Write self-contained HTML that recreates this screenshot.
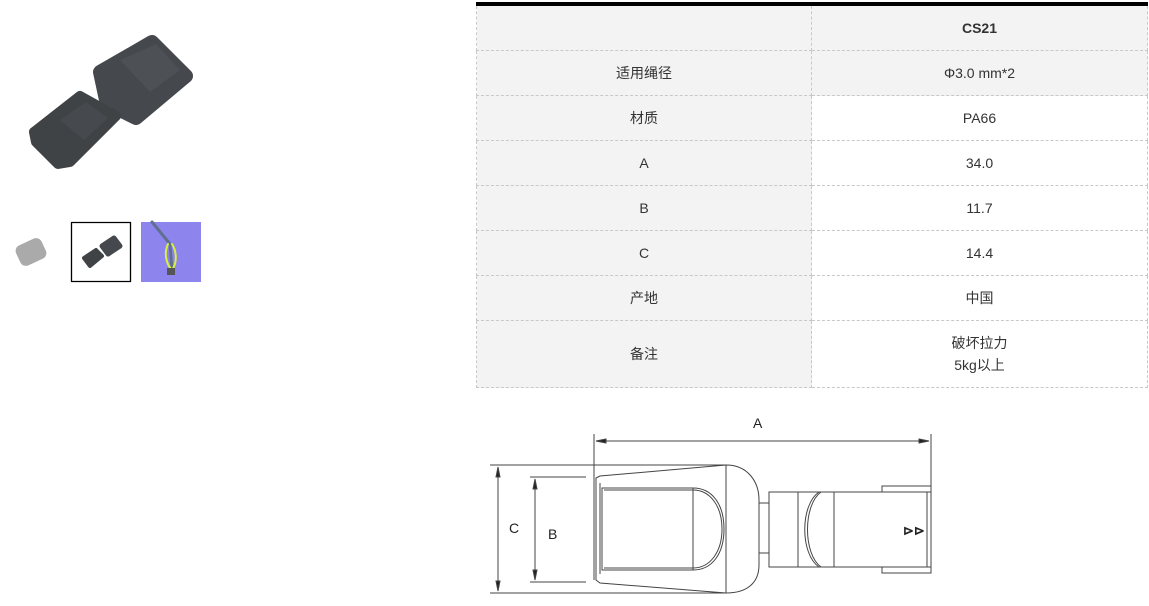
<!DOCTYPE html>
<html><head><meta charset="utf-8"><style>
body{margin:0;width:1149px;height:606px;background:#fff;position:relative;overflow:hidden;font-family:"Liberation Sans","Noto Sans CJK SC",sans-serif;}
table{position:absolute;left:476px;top:2px;width:672px;border-collapse:collapse;border-top:4px solid #000;font-size:14px;color:#333;}
td{border:1px dashed #c8c8c8;text-align:center;padding:0;height:44px;}
td.l{width:334px;background:#f3f3f3;}
td.g{background:#f3f3f3;}
</style></head><body>
<svg style="position:absolute;left:0;top:0" width="470" height="300">
<g stroke-linejoin="round" stroke-linecap="round">
<polygon points="100,72 152,42 186,76 136,118 124,112 106,100" fill="#45484c" stroke="#45484c" stroke-width="14"/>
<polygon points="34,132 80,96 116,116 70,162 58,164 36,142" fill="#404346" stroke="#404346" stroke-width="10"/>
<polygon points="120,60 156,44 180,70 150,92" fill="#4d5054"/>
<polygon points="60,120 86,102 108,118 84,140" fill="#46494d"/>
<rect x="17" y="241" width="28" height="22" rx="6" fill="#aaa" transform="rotate(-25 31 252)"/>
<rect x="71.5" y="222.5" width="59" height="59" fill="#fff" stroke="#000" stroke-width="1.3"/>
<polygon points="84,258 96,250 102,256 90,266" fill="#404346" stroke="#404346" stroke-width="4"/>
<polygon points="102,246 114,238 120,246 108,254" fill="#45484c" stroke="#45484c" stroke-width="5"/>
<rect x="141" y="222" width="60" height="60" fill="#8d84ee"/>
<path d="M152,222 L170,244 L172,270" stroke="#607090" stroke-width="3" fill="none"/>
<path d="M168,244 C162,258 170,268 172,270 C178,262 176,250 172,244" stroke="#d8f040" stroke-width="2" fill="none"/>
<rect x="167" y="268" width="8" height="7" fill="#555"/>
</g></svg>
<table>
<tr><td class="l"></td><td class="g"><b>CS21</b></td></tr>
<tr><td class="l">适用绳径</td><td class="g">Φ3.0 mm*2</td></tr>
<tr><td class="l">材质</td><td>PA66</td></tr>
<tr><td class="l">A</td><td>34.0</td></tr>
<tr><td class="l">B</td><td>11.7</td></tr>
<tr><td class="l">C</td><td>14.4</td></tr>
<tr><td class="l">产地</td><td>中国</td></tr>
<tr><td class="l" style="height:66px">备注</td><td style="line-height:22px">破坏拉力<br>5kg以上</td></tr>
</table>
<svg style="position:absolute;left:0;top:0" width="1149" height="606" font-family="Liberation Sans,sans-serif" font-size="14" fill="none" stroke="#444" stroke-width="1">
<text x="753" y="428" fill="#222" stroke="none">A</text>
<text x="509" y="533" fill="#222" stroke="none">C</text>
<text x="548" y="539" fill="#222" stroke="none">B</text>
<line x1="594" y1="434" x2="594" y2="580"/><line x1="931" y1="434" x2="931" y2="490"/>
<line x1="596" y1="441" x2="929" y2="441"/>
<polygon points="596,441 606,439 606,443" fill="#222"/><polygon points="929,441 919,439 919,443" fill="#222"/>
<line x1="490" y1="465" x2="726" y2="465"/><line x1="490" y1="593" x2="726" y2="593"/>
<line x1="498" y1="467" x2="498" y2="591"/>
<polygon points="498,467 496,477 500,477" fill="#222"/><polygon points="498,591 496,581 500,581" fill="#222"/>
<line x1="530" y1="477" x2="586" y2="477"/><line x1="530" y1="582" x2="586" y2="582"/>
<line x1="535" y1="479" x2="535" y2="580"/>
<polygon points="535,479 533,489 537,489" fill="#222"/><polygon points="535,580 533,570 537,570" fill="#222"/>
<path d="M596,478 L600,476 L726,465 C748,465 759,482 759,500 L759,565 C759,582 748,593 726,593 L600,583 L596,580 Z"/>
<line x1="726" y1="465" x2="726" y2="593"/>
<path d="M600,483 L600,574"/>
<path d="M602,488 L693,488 C712,488 724,504 724,529 C724,554 712,570 693,570 L602,570 Z"/>
<path d="M604,490 L693,490 C710,490 722,506 722,529 C722,552 710,568 693,568 L604,568"/>
<line x1="693" y1="488" x2="693" y2="570"/>
<rect x="759" y="503" width="10" height="50"/>
<rect x="769" y="492" width="162" height="75"/>
<line x1="798" y1="492" x2="798" y2="567"/><line x1="834" y1="492" x2="834" y2="567"/>
<path d="M819,492 C800,505 800,554 819,567"/>
<path d="M821,492 C803,505 803,554 821,567"/>
<rect x="882" y="486" width="49" height="6"/><rect x="882" y="567" width="49" height="6"/>
<line x1="927" y1="492" x2="927" y2="567"/>
<text x="903" y="535" fill="#222" stroke="none" font-size="13" font-weight="bold">⊳⊳</text>
</svg>
</body></html>
